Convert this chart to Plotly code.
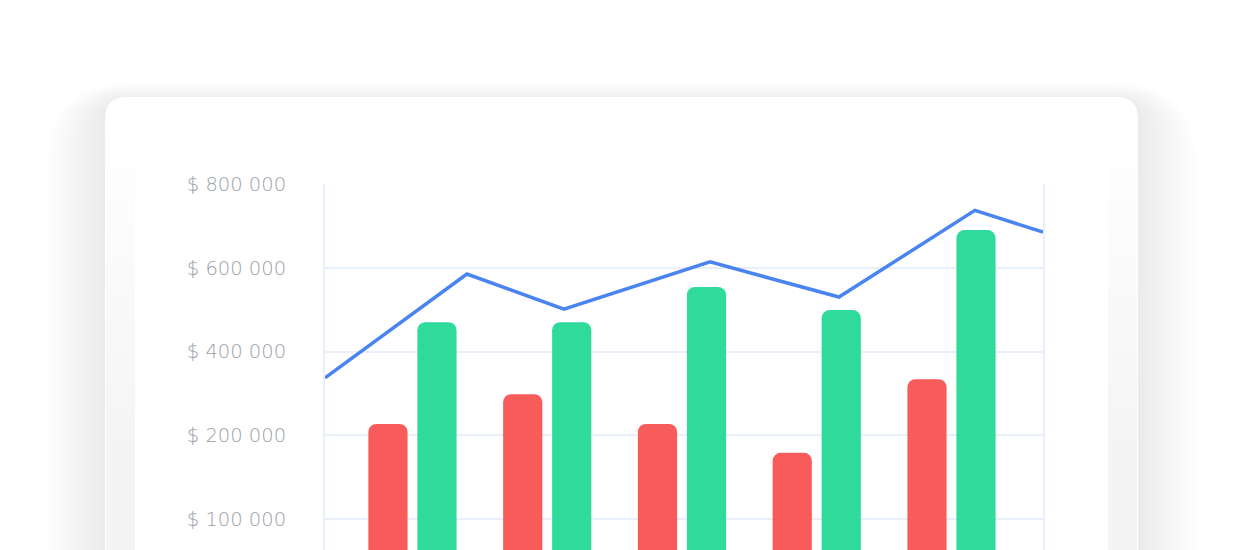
import plotly.graph_objects as go

# bar groups (one pair per period)
periods = [0, 1, 2, 3, 4]
expenses = [227000, 298000, 227000, 158000, 334000]
income = [470000, 470000, 554000, 499000, 690000]

# trend line, positions measured in period units
trend_x = [-0.649, 0.404, 1.124, 2.208, 3.165, 4.174, 4.679]
trend_y = [337000, 585000, 501000, 614000, 530000, 737000, 685000]

tick_vals = [0, 200000, 400000, 600000, 800000]
tick_text = ["$ 100 000", "$ 200 000", "$ 400 000", "$ 600 000", "$ 800 000"]

bar_floor = -150000  # bars run off the bottom of the card

W, H = 1244, 550
OFF = 8  # page body margin
L, R, T, B = 325 - OFF, 1043 - OFF, 184 - OFF, 550 - OFF  # plot area, figure px


def px_x(p):
    return (p - OFF - L) / (R - L)


def px_y(p):
    return (B - (p - OFF)) / (B - T)


def round_rect(x0, y0, x1, y1, r):
    """Rounded rectangle path in paper coords from a page-pixel box."""
    ax0, ax1 = px_x(x0), px_x(x1)
    ay0, ay1 = px_y(y0), px_y(y1)  # y0 top, y1 bottom
    rx, ry = r / (R - L), r / (B - T)
    return (f"M {ax0 + rx} {ay0} L {ax1 - rx} {ay0} "
            f"Q {ax1} {ay0} {ax1} {ay0 - ry} L {ax1} {ay1 + ry} "
            f"Q {ax1} {ay1} {ax1 - rx} {ay1} L {ax0 + rx} {ay1} "
            f"Q {ax0} {ay1} {ax0} {ay1 + ry} L {ax0} {ay0 - ry} "
            f"Q {ax0} {ay0} {ax0 + rx} {ay0} Z")


shapes = []
# soft shadow around the card, heavier on the sides than on top
for d in range(3, 63, 3):
    shapes.append(dict(type="path", xref="paper", yref="paper", layer="below",
                       path=round_rect(105 - d, 97 - d * 0.3 + 4, 1138 + d, 720, 24 + d),
                       fillcolor="rgba(175,182,188,0.0075)", line=dict(width=0)))
# card
shapes.append(dict(type="path", xref="paper", yref="paper", layer="below",
                   path=round_rect(105, 97, 1138, 720, 22),
                   fillcolor="white", line=dict(width=0)))
# faint inner edge tint on both sides, fading towards the top
for top in range(140, 470, 30):
    for x0, x1 in [(106, 135), (1108, 1137)]:
        shapes.append(dict(type="rect", xref="paper", yref="paper", layer="below",
                           x0=px_x(x0), x1=px_x(x1), y0=px_y(720), y1=px_y(top),
                           fillcolor="rgba(205,224,226,0.02)", line=dict(width=0)))

fig = go.Figure()
fig.add_trace(go.Bar(x=periods, y=[v - bar_floor for v in expenses], base=bar_floor,
                     marker=dict(color="#f75b5a", line=dict(width=0)), hoverinfo="skip"))
fig.add_trace(go.Bar(x=periods, y=[v - bar_floor for v in income], base=bar_floor,
                     marker=dict(color="#2edb9a", line=dict(width=0)), hoverinfo="skip"))
fig.add_trace(go.Scatter(x=trend_x, y=trend_y, mode="lines",
                         line=dict(color="#4a84f0", width=3.5), hoverinfo="skip"))

fig.update_layout(
    width=W, height=H,
    margin=dict(l=L, r=W - R, t=T, b=H - B),
    paper_bgcolor="white", plot_bgcolor="white",
    showlegend=False,
    barmode="group", bargap=0.273, bargroupgap=0.2, barcornerradius=8,
    shapes=shapes,
    font=dict(family="DejaVu Sans", size=19.5, color="#9aa0a9", weight=300),
    xaxis=dict(range=[-0.649, 4.679], showgrid=False, zeroline=False,
               showticklabels=False, fixedrange=True),
    yaxis=dict(range=[-74030, 800000], tickvals=tick_vals, ticktext=tick_text,
               showgrid=True, gridcolor="#e8eefa", gridwidth=2, zeroline=False,
               showline=True, mirror=True, linecolor="#e8eefa", linewidth=2,
               ticks="", ticklabelstandoff=33, fixedrange=True),
)

fig.write_html("out.html", config={"displayModeBar": False})
